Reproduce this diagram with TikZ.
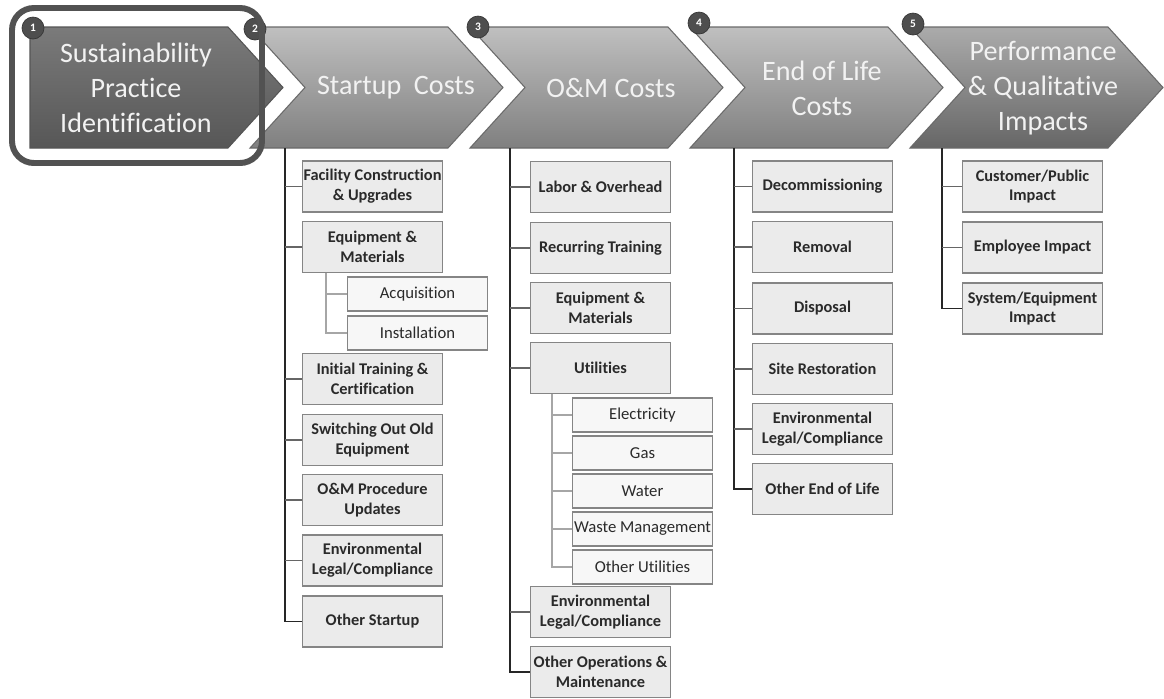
\documentclass[tikz,border=0pt]{standalone}
\usepackage{fontspec}
\setmainfont{Carlito}[Ligatures=NoCommon]
\usetikzlibrary{positioning,calc}
\definecolor{stageedge}{HTML}{6A6A6A}
\definecolor{numgray}{HTML}{4E4E4E}
\definecolor{boxedge}{HTML}{858585}
\definecolor{boxfill}{HTML}{EBEBEB}
\definecolor{textdark}{HTML}{2A2A2A}
\tikzset{
  stageone/.style={draw=stageedge!80!black, line width=0.6pt, top color=black!52, bottom color=black!66},
  stagebar/.style={draw=stageedge, line width=0.6pt, top color=black!25, bottom color=black!50},
  stagelast/.style={draw=stageedge, line width=0.6pt, top color=black!33, bottom color=black!60},
  stagetext/.style={align=center, text=white!95!black, font=\fontsize{16}{19.8}\selectfont, inner sep=0pt},
  stagenum/.style={circle, fill=numgray, draw=numgray!70!black, text=white, font=\fontsize{6.5}{7}\selectfont\bfseries, inner sep=0pt, minimum size=0.44cm},
  focusframe/.style={draw=black!68, line width=3.4pt, rounded corners=0.44cm},
  costbox/.style={draw=boxedge, line width=1.1pt, fill=boxfill, minimum width=2.8cm, minimum height=1.02cm, align=center, inner sep=0pt, text=textdark, font=\fontsize{9.3}{11.3}\selectfont\bfseries},
  itembox/.style={draw=boxedge, line width=1.1pt, fill=white!97!black, minimum width=2.8cm, minimum height=0.68cm, align=center, inner sep=0pt, text=textdark, font=\fontsize{9.5}{11.3}\selectfont},
  trunkline/.style={draw=black!85, line width=0.8pt},
  tickline/.style={draw=black!60, line width=1pt},
  subline/.style={draw=black!35, line width=1pt}
}
\begin{document}
\begin{tikzpicture}[x=0.02cm, y=-0.02cm]
  \useasboundingbox[fill=white] (0,0) rectangle (1164,698);

  % stage chevrons
  \path[stageone] (30,27) -- (228,27) -- (283,87.5) -- (228,148) -- (30,148) -- cycle;
  \path[stagebar] (250,27) -- (448,27) -- (503,87.5) -- (448,148) -- (250,148) -- (305,87.5) -- cycle;
  \path[stagebar] (470,27) -- (668,27) -- (723,87.5) -- (668,148) -- (470,148) -- (525,87.5) -- cycle;
  \path[stagebar] (690,27) -- (888,27) -- (943,87.5) -- (888,148) -- (690,148) -- (745,87.5) -- cycle;
  \path[stagelast] (910,27) -- (1108,27) -- (1163,87.5) -- (1108,148) -- (910,148) -- (965,87.5) -- cycle;

  \node[stagetext] (s1) at (136,88) {Sustainability\\Practice\\Identification};
  \node[stagetext] (s2) at (396,88) {Startup~ Costs};
  \node[stagetext] (s3) at (611,88) {O\&M Costs};
  \node[stagetext] (s4) at (822,88) {End of Life\\Costs};
  \node[stagetext] (s5) at (1043,88) {Performance\\\& Qualitative\\Impacts};

  \node[stagenum] (n1) at (33,28) {1};
  \node[stagenum] (n2) at (255,29) {2};
  \node[stagenum] (n3) at (478,27) {3};
  \node[stagenum] (n4) at (699,23) {4};
  \node[stagenum] (n5) at (913,24) {5};

  \draw[focusframe] (12,8) rectangle (262,163);

  % startup costs
  \coordinate (t2) at (285,148);
  \node[costbox] (fac) at (372.5,186.5) {Facility Construction\\\& Upgrades};
  \node[costbox] (equip) at (372.5,247) {Equipment \&\\Materials};
  \node[itembox] (acq) at (417.5,294) {Acquisition};
  \node[itembox] (inst) at (417.5,333) {Installation};
  \node[costbox] (train) at (372.5,379) {Initial Training \&\\Certification};
  \node[costbox] (switch) at (372.5,440) {Switching Out Old\\Equipment};
  \node[costbox] (proc) at (372.5,500) {O\&M Procedure\\Updates};
  \node[costbox] (envs) at (372.5,560.5) {Environmental\\Legal/Compliance};
  \node[costbox] (othst) at (372.5,621.5) {Other Startup};

  \draw[trunkline] (t2) |- (othst.west);
  \foreach \b in {fac,equip,train,switch,proc,envs}
    \draw[tickline] (t2 |- \b.west) -- (\b.west);
  \coordinate (e2) at (326,273);
  \draw[subline] (e2) |- (inst.west);
  \draw[subline] (e2 |- acq.west) -- (acq.west);

  % O&M costs
  \coordinate (t3) at (510,148);
  \node[costbox] (labor) at (600.5,187) {Labor \& Overhead};
  \node[costbox] (rtrain) at (600.5,248) {Recurring Training};
  \node[costbox] (omequip) at (600.5,308) {Equipment \&\\Materials};
  \node[costbox] (util) at (600.5,368) {Utilities};
  \node[itembox] (elec) at (642.5,415) {Electricity};
  \node[itembox] (gas) at (642.5,453) {Gas};
  \node[itembox] (water) at (642.5,491) {Water};
  \node[itembox] (waste) at (642.5,529) {Waste Management};
  \node[itembox] (othut) at (642.5,567) {Other Utilities};
  \node[costbox] (envom) at (600.5,612) {Environmental\\Legal/Compliance};
  \node[costbox] (othom) at (600.5,672) {Other Operations \&\\Maintenance};

  \draw[trunkline] (t3) |- (othom.west);
  \foreach \b in {labor,rtrain,omequip,util,envom}
    \draw[tickline] (t3 |- \b.west) -- (\b.west);
  \coordinate (u3) at (552,394);
  \draw[subline] (u3) |- (othut.west);
  \foreach \b in {elec,gas,water,waste}
    \draw[subline] (u3 |- \b.west) -- (\b.west);

  % end of life costs
  \coordinate (t4) at (734,148);
  \node[costbox] (decom) at (822.5,186.5) {Decommissioning};
  \node[costbox] (remov) at (822.5,247) {Removal};
  \node[costbox] (disp) at (822.5,308.5) {Disposal};
  \node[costbox] (site) at (822.5,369) {Site Restoration};
  \node[costbox] (enveol) at (822.5,429) {Environmental\\Legal/Compliance};
  \node[costbox] (otheol) at (822.5,489) {Other End of Life};

  \draw[trunkline] (t4) |- (otheol.west);
  \foreach \b in {decom,remov,disp,site,enveol}
    \draw[tickline] (t4 |- \b.west) -- (\b.west);

  % performance impacts
  \coordinate (t5) at (942,148);
  \node[costbox] (cust) at (1032.5,186.5) {Customer/Public\\Impact};
  \node[costbox] (empl) at (1032.5,247.5) {Employee Impact};
  \node[costbox] (sysimp) at (1032.5,308.5) {System/Equipment\\Impact};

  \draw[trunkline] (t5) |- (sysimp.west);
  \foreach \b in {cust,empl}
    \draw[tickline] (t5 |- \b.west) -- (\b.west);
\end{tikzpicture}
\end{document}
